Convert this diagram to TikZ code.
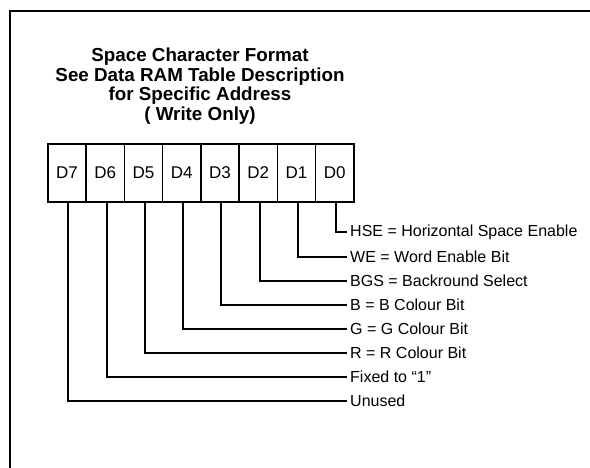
\documentclass[tikz,border=0pt]{standalone}
\usepackage{fontspec}
\setmainfont{Liberation Sans}
\begin{document}
\begin{tikzpicture}[x=1pt,y=-1pt,
  cellbox/.style={draw,line width=1.5pt,minimum width=38.25pt,minimum height=58pt,inner sep=0pt,anchor=north west,font=\fontsize{17}{17}\selectfont},
  conn/.style={line width=2pt},
  lbl/.style={anchor=west,inner sep=3pt,font=\fontsize{16}{16}\selectfont},
  frame/.style={line width=2.5pt}]
\useasboundingbox (0,0) rectangle (590,467);
\draw[frame] (10,468) -- (10,11) -- (591,11);
\node[align=center,font=\bfseries\fontsize{18.8}{19.5}\selectfont] (title) at (200,86)
  {Space Character Format\\See Data RAM Table Description\\for Specific Address\\( Write Only)};
\node[cellbox] (d7) at (47,143) {D7};
\node[cellbox] (d6) at (85.25,143) {D6};
\node[cellbox] (d5) at (123.5,143) {D5};
\node[cellbox] (d4) at (161.75,143) {D4};
\node[cellbox] (d3) at (200,143) {D3};
\node[cellbox] (d2) at (238.25,143) {D2};
\node[cellbox] (d1) at (276.5,143) {D1};
\node[cellbox] (d0) at (314.75,143) {D0};
\node[lbl] (l0) at (347,232) {HSE = Horizontal Space Enable};
\node[lbl] (l1) at (347,257) {WE = Word Enable Bit};
\node[lbl] (l2) at (347,281) {BGS = Backround Select};
\node[lbl] (l3) at (347,305) {B = B Colour Bit};
\node[lbl] (l4) at (347,329) {G = G Colour Bit};
\node[lbl] (l5) at (347,353) {R = R Colour Bit};
\node[lbl] (l6) at (347,377) {Fixed to “1”};
\node[lbl] (l7) at (347,401) {Unused};
\foreach \i in {0,...,7}{
  \draw[conn] ([xshift=1.5pt]d\i.south) |- (l\i.west);
}
\end{tikzpicture}
\end{document}
